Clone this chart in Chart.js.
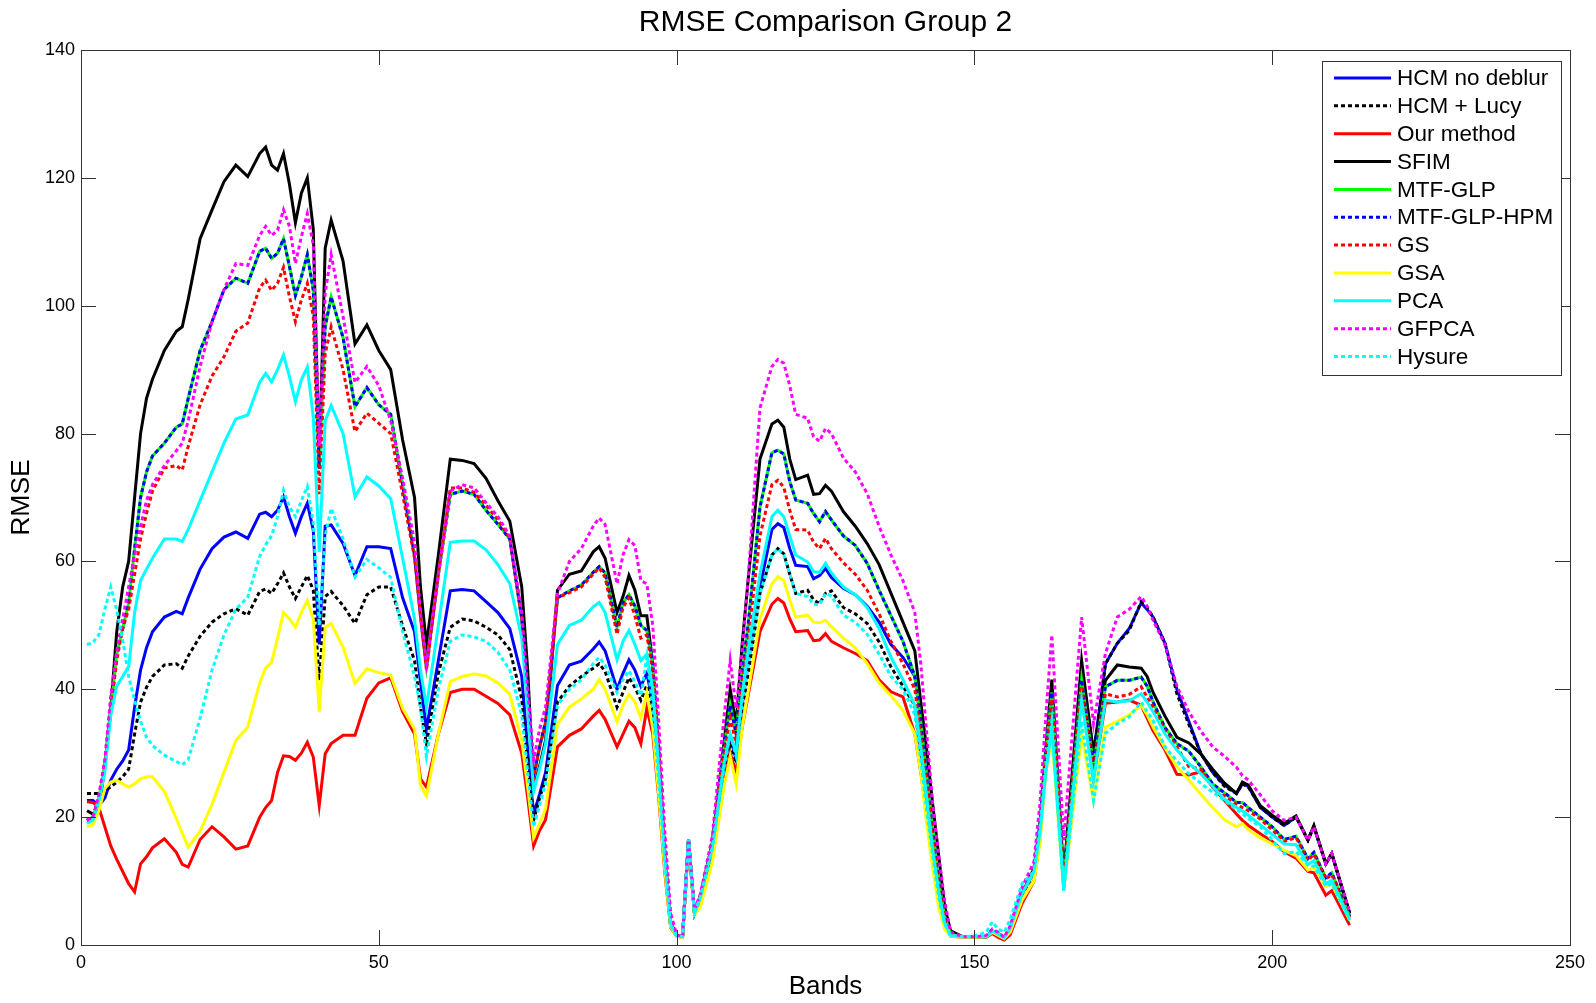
<!DOCTYPE html>
<html>
<head>
<meta charset="utf-8">
<script src="https://cdn.jsdelivr.net/npm/chart.js@4.4.1/dist/chart.umd.min.js"></script>
<style>
html,body{margin:0;padding:0;background:#fff;}
canvas{display:block;}
</style>
</head>
<body>
<canvas id="c" width="1596" height="1003" style="width:1596px;height:1003px"></canvas>
<script>
// ---- data ----
const bands = [
  1,2,3,4,5,6,7,8,9,10,11,12,
  14,16,17,18,20,22,24,26,28,
  30,31,32,33,34,35,36,37,38,39,40,41,42,
  44,46,48,50,52,54,56,57,58,
  60,62,64,66,68,70,72,74,75,76,77,78,
  80,82,84,86,87,88,90,91,92,93,94,95,96,97,98,99,100,
  101,102,103,104,106,108,109,110,111,112,114,116,117,118,119,120,
  122,123,124,125,126,128,130,132,134,136,138,140,141,142,143,144,145,146,
  148,150,152,153,154,155,156,158,160,161,162,163,165,168,170,
  172,174,176,178,179,180,182,184,186,188,190,192,194,195,196,198,200,202,204,206,207,209,210,213
];

const seriesNames = ['HCM no deblur','HCM + Lucy','Our method','SFIM','MTF-GLP','MTF-GLP-HPM','GS','GSA','PCA','GFPCA','Hysure'];

const hcmNoDeblur = [
  22.6,22.6,21.8,23,25.8,27.5,28.8,30.5,37.2,43,46.5,49,
  51.3,52.2,51.8,54.3,58.8,62,63.8,64.6,63.6,
  67.4,67.7,67,68,70.1,67,64.4,67,69.1,64.9,47,65.5,65.7,
  62.8,57.8,62.3,62.3,62,54.3,49,41.2,33.8,
  44.5,55.4,55.6,55.4,53.7,52,49.5,42,30.5,20.5,23.6,27,
  40.6,43.8,44.4,46.3,47.4,46,40,42.5,44.6,43,40.5,42.5,38,26.5,13.5,3.2,1.5,
  1.3,16.5,5,7.5,15,28,32.5,29,37.5,44,56,65,65.9,65.3,62,59.4,
  59.2,57.3,57.8,58.9,57.5,55.8,54.8,53,50.5,47,45,42,35,26,17,9,3.6,1.5,
  1.3,1.3,1.3,2.2,1.7,1.1,2.5,8,11.5,18,29,40,10,43,30,
  44,47.2,49.5,53.5,52.5,51.3,47.2,40,35,30,27,25,23.7,25.2,24.8,21.5,20,18.7,20,16.4,18.5,12.7,14.3,4.9
];
const hcmLucy = [
  23.7,23.7,23.7,24.2,24.7,25.5,26.3,27.5,33,38,40.3,42,
  43.8,44,43.3,45.2,48.3,50.5,51.8,52.6,51.6,
  55.3,55.7,55,56.5,58.2,56,54.2,56,57.8,55.5,41.4,54.5,55.3,
  53.1,50.3,54.8,56,56,49.9,44.5,37.2,31.5,
  42.5,49.7,51,50.7,49.7,48.5,46.2,38.5,28.5,19.5,23,26,
  38,40.5,42,43.3,44,42.8,37.2,39.5,41.8,40.3,38.3,40.6,36,25.5,13,3,1.5,
  1.3,16.5,5,7.5,15,27,31.5,28.5,37,42,55,61,62,61.2,58,55,
  55.5,54,53.4,55,55.4,52.8,51.8,50.3,47.4,43.5,40.5,37.5,30.5,22.5,15,8,3.4,1.5,
  1.3,1.3,1.3,2.1,1.7,1.1,2.4,7.8,11.2,17.5,28.5,39,9.5,42,29,
  44,47.2,49.2,53.7,52.8,51.3,47.2,39.3,34.5,30,27,24.8,23.7,25.2,24.7,21.6,20,18.7,20,16.4,18.5,12.7,14.3,4.9
];
const ourMethod = [
  22.4,22.3,21.5,18.5,15.5,13.4,11.5,9.6,8.3,12.7,13.8,15.2,
  16.6,14.5,12.6,12.2,16.5,18.5,16.9,15,15.5,
  20,21.5,22.6,27,29.6,29.5,28.9,30,31.7,29.4,21.8,29.9,31.5,
  32.8,32.8,38.6,41,41.8,36.5,33,26,24.7,
  33,39.5,40,40,38.9,37.8,36,30,23,15.5,17.9,19.6,
  31,32.8,33.8,35.8,36.7,35.3,31,33,35,34,31.5,37,33,23,11.5,2.7,1.4,
  1.2,16,4.8,6.2,13.5,25.5,30,27,34,39,49,53.3,54.2,53.5,51,49,
  49.2,47.6,47.7,48.7,47.5,46.5,45.6,44.5,41.5,39.6,38.8,33,27,20.5,13.5,7,3,1.4,
  1.2,1.2,1.2,1.8,1.2,0.8,1.6,6.5,10,16.5,28,38,9,39,26,
  37.8,38,38.3,37.5,35.5,33.5,30.5,26.7,26.6,27.1,24.7,22.6,20.5,19.5,18.7,17.4,16.2,14.6,13.6,11.5,11.3,7.8,8.5,3.1
];
const sfim = [
  21,20.5,21,28,37,49,56,60,70,80,85.5,88.5,
  93,96,96.7,101,110.5,115,119.4,122,120.2,
  123.8,124.8,122,121.2,123.8,119,113,117.6,120,112,75,109,113.4,
  107,94,97,93,90,79,70,56,47,
  61,76,75.8,75.3,73,69.5,66.3,56,43,24.5,28,32,
  55.5,58,58.5,61.5,62.3,60.5,52,54.5,57.8,55.5,51.5,51.5,44,28,14,3,1.5,
  1.3,16.5,5,7.5,16,32,40,34.5,47,57,76,81.5,82.1,81,76,72.8,
  73.5,70.5,70.6,71.9,71,67.8,65.5,62.8,59.5,55,50.5,46,38,30.5,22,14,6,2.2,
  1.3,1.3,1.3,2.2,1.8,1.2,2.5,8,12,19,31,41.5,11,44.5,30,
  41.4,43.8,43.5,43.3,42,39.5,35.8,32.5,31.6,29.9,27.5,25.3,23.7,25.5,25,21.8,20.3,19,20.2,16.4,18.7,12.7,14.3,5
];
const mtfGlp = [
  19.5,20,23,28,36.5,45.5,49.5,53.5,62,70,74,76.5,
  78.5,81,81.5,85.5,93,97.5,102.5,104.3,103.5,
  108.5,109,107.4,108.2,110.5,106.1,101.6,104.5,108,102.4,74.5,96.7,101.4,
  95,84.2,87.2,84.5,83,72,61,51.4,43.5,
  58,70.5,71,70.5,68,65.8,63.5,51,39,26.5,31,35,
  54.3,55.4,56.3,58.3,59.2,58.2,49.7,53.5,54.8,53,50,49.2,44,31,15,3.5,1.5,
  1.3,16.5,5,7.7,16,31,37.5,33,43,50,68.5,77,77.4,76.8,72.5,69.6,
  69.1,67.5,66.2,67.8,66.5,64,62.5,59.7,55.5,51.5,47.5,42,35,26,18,10,4.5,1.7,
  1.3,1.3,1.3,2.2,1.8,1.1,2.5,8,11.5,18.5,30,39.5,10,41.5,28,
  40.4,41.4,41.4,41.9,40.5,38,34,31.5,30.3,27.9,25.2,23.8,22.3,22.3,21.5,20,18.5,16.5,17,13.5,14.5,10.5,11.3,4.5
];
const mtfGlpHpm = [
  19.5,20,23,28,36.5,45.5,49.5,53.5,62,70,74,76.5,
  78.5,81,81.5,85.5,93,97.5,102.5,104.3,103.5,
  108.5,109,107.4,108.2,110.5,106.1,101.6,104.5,108,102.4,74.5,96.7,101.4,
  95,84.2,87.2,84.5,83,72,61,51.4,43.5,
  58,70.5,71,70.5,68,65.8,63.5,51,39,26.5,31,35,
  54.3,55.4,56.3,58.3,59.2,58.2,49.7,53.5,54.8,53,50,49.2,44,31,15,3.5,1.5,
  1.3,16.5,5,7.7,16,31,37.5,33,43,50,68.5,77,77.4,76.8,72.5,69.6,
  69.1,67.5,66.2,67.8,66.5,64,62.5,59.7,55.5,51.5,47.5,42,35,26,18,10,4.5,1.7,
  1.3,1.3,1.3,2.2,1.8,1.1,2.5,8,11.5,18.5,30,39.5,10,41.5,28,
  40.4,41.4,41.4,41.9,40.5,38,34,31.5,30.3,27.9,25.2,23.8,22.3,22.3,21.5,20,18.5,16.5,17,13.5,14.5,10.5,11.3,4.5
];
const gs = [
  19.5,20,23,28.5,37,44.5,49.5,52.5,58,63.5,67.5,71,
  74.6,75,74.3,78,84.5,89,92,96,97.3,
  102.8,104,102.4,103.5,106,101.4,97.5,100.9,103.5,98.3,70.5,92.5,96.7,
  90,80.3,83.2,81.6,80,70.5,60.5,51.4,43,
  58,71.5,71.5,70.8,68.8,66.5,63.6,51,38.5,26,31,34.5,
  54.3,55.1,56,58,59,57.5,48.6,52.8,54.3,51.5,48,48.5,42.5,30,14.5,3.5,1.5,
  1.3,16.5,5,7.7,15.5,30,35.5,31.5,41,47.5,64,72,72.7,71.6,68,65,
  64.9,63,62,63.6,62,59.8,58,55.5,51.8,47.5,44,40,33,25,17,9.5,4,1.6,
  1.3,1.3,1.3,2.1,1.7,1.1,2.5,7.8,11.5,18,29,38.5,9.5,40.5,27,
  39.3,38.8,39.2,40.4,38.8,37.2,33.5,31,27.9,27.5,24.7,23.3,22,21.5,21,19.7,18,16.2,16.8,13.2,14.2,10.3,11,4.3
];
const gsa = [
  18.5,18.8,21,24.5,25.5,25.8,25.2,24.7,25.2,26,26.3,26.3,
  24,19.8,17.5,15.3,17.8,22,27,32,34.1,
  41,43.3,44.2,48,52,51,49.7,52,53.9,51,36.5,49.7,50.3,
  46.6,40.9,43.2,42.6,42.2,37,33.8,25,23.3,
  33,41.2,42,42.4,42.1,41,39.2,32,24.7,16.8,19,21.3,
  34.5,37.2,38.5,40,41.5,40,34.9,37.5,39.2,38,35.5,39.5,34,23.5,12,2.8,1.4,
  1.2,16,4.8,6,13,25,29.5,25.2,34,39.5,51,56.5,57.6,57,54,51.3,
  51.6,50.5,50.4,50.8,49.8,48,46.5,44,41,39,36.7,33,27,19,12,6,2.5,1.4,
  1.2,1.2,1.3,2,1.5,1,2,7,10,16,27,32.5,8.5,33,22.6,
  34.1,35,36,37.5,36,34.1,30.8,27.9,25.8,23.6,21.5,19.6,18.5,19,18,16.8,15.8,14.8,14,11.7,12.2,9.1,9.6,3.9
];
const pca = [
  19,19.5,22.5,27,36,40.5,42,43.5,52,57,58.8,60.5,
  63.5,63.5,63.1,65,69.5,74,78.5,82.3,82.9,
  88,89.4,88.1,90,92.3,88.9,85,88.4,90.4,82.6,61.5,82,84.4,
  80,70.1,73.2,71.8,69.8,60.5,51,43,37.2,
  50,63,63.2,63.2,61.8,59.5,56.5,48,37,24,27.6,31.5,
  47,50,50.8,52.9,53.6,52,44.6,47.5,49.2,47,44.5,45.5,40,28,14,3.3,1.5,
  1.3,16.5,5,7.5,15.5,28.5,33,30,39,46,58,67,68,67,64,61,
  59.9,58.4,58.3,59.7,58.2,56,54.8,52.8,49.5,45,41.5,37.5,31,23,15,8.5,3.5,1.5,
  1.3,1.3,1.3,2.2,1.7,1.1,2.6,8,11.5,17.5,27,34,8.5,38.3,25.8,
  38.3,38,38.2,39.3,38,36.5,33,30.5,28.4,26.8,24.8,22.8,21.5,21,20.3,18.8,17.3,15.8,15.7,12.6,13.2,9.6,10.1,4.1
];
const gfpca = [
  19.5,20,23.5,29,39,46,51,56,61,65.5,69.5,72,
  75,77.3,78.5,82,90.5,97.5,102.5,106.6,106.3,
  111,112.4,111,111.8,115,112.4,106.6,110.8,114.4,109.5,78,102,108,
  98.3,88,90.5,87.5,82,73,63,52,44,
  58,71,72,71.5,69.2,67,64,52,40,29,33.8,37.2,
  55,60,62,65.5,66.8,65.8,56.5,61,63.4,62.5,57,56.5,50,35,18,5,1.6,
  1.3,16.5,5.5,8,17,36,44.5,37,46,57,84,90.5,91.6,91,87.5,83,
  82.4,79.5,78.8,80.8,80,76.2,74,70.6,65.5,61,57,52,44,33,22,14,7,2,
  1.3,1.3,1.5,2.5,2,1.2,3,9,13,22,36,48.5,16.4,51.3,34.6,
  45.6,51.3,52.5,54.5,53,50.8,47,40.5,36.5,33.5,31,29.5,27.8,26.5,25.8,23.5,21,19.5,20,16.4,18.5,12.7,14.3,5.2
];
const hysure = [
  47,47.3,48.5,52.5,56,52.4,47.7,42,38.3,35,32.5,31.2,
  29.7,28.7,28.2,29,35.5,43,48.5,52.5,54.4,
  60.8,62.6,64,67,71.1,68.5,67,69.5,71.7,66,50,64,68.3,
  63.5,57.6,60.3,59,57.5,49,42,37.2,29.5,
  40,47.5,48.5,48.2,47.5,45.8,43,36,27,18.5,21.9,25.3,
  37.5,40,41.5,44,45,43.8,39.5,41.5,42.9,41.2,39,45,37,25.5,13,3,1.5,
  1.3,16.5,5,7.5,15,28,33,29.5,38,44,55,61,62,61,58,55,
  54.5,53.3,53.2,55,54.6,51.6,50.5,48.6,45.5,42,40,36,29,21,14,7.5,3.2,1.5,
  1.3,1.4,2,3.6,2.5,2,4,9.6,11.5,18,28,35,8.5,35,22.6,
  33.1,34.6,35.7,38,36.5,35.1,31,28.8,26.8,25.3,23.9,22.6,21.2,20.5,19.8,18.5,16.4,14.3,14.6,12.5,12.3,9.2,9.6,3.9
];

const xTickValues = [0, 50, 100, 150, 200, 250];
const yTickValues = [0, 20, 40, 60, 80, 100, 120, 140];

// ---- styles ----
const seriesValues = [hcmNoDeblur, hcmLucy, ourMethod, sfim, mtfGlp, mtfGlpHpm, gs, gsa, pca, gfpca, hysure];
const seriesColors = ['#0000FF','#000000','#FF0000','#000000','#00FF00','#0000FF','#FF0000','#FFFF00','#00FFFF','#FF00FF','#00FFFF'];
const seriesDotted = [false, true, false, false, false, true, true, false, false, true, true];
const DASH = [4, 3];
const FONT = "'Liberation Sans', Arial, Helvetica, sans-serif";

const N = seriesNames.length;
const datasets = seriesNames.map((name, i) => ({
  label: name,
  data: bands.map((b, k) => ({ x: b, y: seriesValues[i][k] })),
  borderColor: seriesColors[i],
  backgroundColor: seriesColors[i],
  borderWidth: 3,
  borderDash: seriesDotted[i] ? DASH : [],
  pointRadius: 0,
  tension: 0,
  fill: false,
  order: N - 1 - i
}));

const framePlugin = {
  id: 'frame',
  afterDraw(chart) {
    const { ctx, chartArea: a, scales } = chart;
    ctx.save();
    // axes box
    ctx.strokeStyle = '#333333';
    ctx.lineWidth = 1;
    ctx.strokeRect(Math.round(a.left) + 0.5, Math.round(a.top) + 0.5, Math.round(a.right - a.left), Math.round(a.bottom - a.top));
    // inner ticks on all four sides
    const TL = 15;
    ctx.beginPath();
    xTickValues.forEach(v => {
      const px = Math.round(scales.x.getPixelForValue(v)) + 0.5;
      ctx.moveTo(px, a.bottom); ctx.lineTo(px, a.bottom - TL);
      ctx.moveTo(px, a.top); ctx.lineTo(px, a.top + TL);
    });
    yTickValues.forEach(v => {
      const py = Math.round(scales.y.getPixelForValue(v)) + 0.5;
      ctx.moveTo(a.left, py); ctx.lineTo(a.left + TL, py);
      ctx.moveTo(a.right, py); ctx.lineTo(a.right - TL, py);
    });
    ctx.stroke();

    // title and axis titles
    ctx.fillStyle = '#000';
    ctx.textAlign = 'center';
    ctx.textBaseline = 'middle';
    ctx.font = '30px ' + FONT;
    ctx.fillText('RMSE Comparison Group 2', (a.left + a.right) / 2, 23);
    ctx.font = '26px ' + FONT;
    ctx.fillText('Bands', (a.left + a.right) / 2, 987);
    ctx.save();
    ctx.translate(22, (a.top + a.bottom) / 2);
    ctx.rotate(-Math.PI / 2);
    ctx.font = '26.5px ' + FONT;
    ctx.fillText('RMSE', 0, 0);
    ctx.restore();

    // legend box
    const lx = 1322, ly = 61, lw = 239, lh = 314;
    ctx.fillStyle = '#fff';
    ctx.fillRect(lx, ly, lw, lh);
    ctx.strokeStyle = '#333333';
    ctx.lineWidth = 1;
    ctx.strokeRect(lx + 0.5, ly + 0.5, lw, lh);
    ctx.font = '22.5px ' + FONT;
    ctx.textAlign = 'left';
    ctx.textBaseline = 'middle';
    for (let i = 0; i < N; i++) {
      const y = 78 + i * 27.85;
      ctx.strokeStyle = seriesColors[i];
      ctx.lineWidth = 3;
      ctx.setLineDash(seriesDotted[i] ? DASH : []);
      ctx.beginPath();
      ctx.moveTo(1334, y); ctx.lineTo(1391, y);
      ctx.stroke();
      ctx.setLineDash([]);
      ctx.fillStyle = '#000';
      ctx.fillText(seriesNames[i], 1397, y + 1);
    }
    ctx.restore();
  }
};

new Chart(document.getElementById('c').getContext('2d'), {
  type: 'line',
  data: { datasets },
  options: {
    responsive: false,
    animation: false,
    devicePixelRatio: 1,
    layout: { padding: { top: 50, right: 26, left: 0, bottom: 0 } },
    plugins: { legend: { display: false }, tooltip: { enabled: false }, title: { display: false } },
    scales: {
      x: {
        type: 'linear', min: 0, max: 250,
        afterBuildTicks: s => { s.ticks = xTickValues.map(v => ({ value: v })); },
        ticks: { color: '#000', font: { size: 18, family: FONT }, padding: 7, maxRotation: 0, autoSkip: false },
        grid: { display: false, drawTicks: false },
        border: { display: false },
        afterFit: s => { s.height = 58; }
      },
      y: {
        type: 'linear', min: 0, max: 140,
        afterBuildTicks: s => { s.ticks = yTickValues.map(v => ({ value: v })); },
        ticks: { color: '#000', font: { size: 18, family: FONT }, padding: 6, autoSkip: false },
        grid: { display: false, drawTicks: false },
        border: { display: false },
        afterFit: s => { s.width = 81; }
      }
    }
  },
  plugins: [framePlugin]
});
</script>
</body>
</html>
